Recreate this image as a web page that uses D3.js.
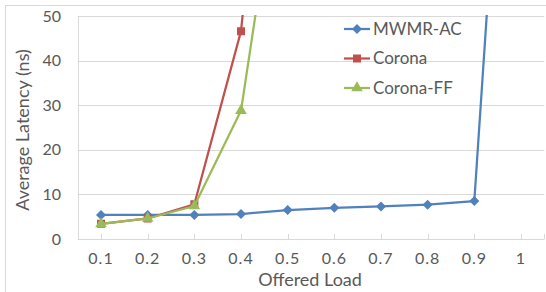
<!DOCTYPE html>
<html>
<head>
<meta charset="utf-8">
<script src="https://cdn.jsdelivr.net/npm/d3@7"></script>
<style>
  body { margin: 0; background: #fff; }
  text { font-family: Lato, "Liberation Sans", sans-serif; fill: #595959; }
</style>
</head>
<body>
<div id="chart"></div>
<script>
// offered load categories
const loads = ["0.1", "0.2", "0.3", "0.4", "0.5", "0.6", "0.7", "0.8", "0.9", "1"];
// average latency (ns), values past the top are estimated from the slope
const mwmrAC = [5.4, 5.4, 5.4, 5.6, 6.5, 7.0, 7.3, 7.7, 8.5, 165];
const corona = [3.4, 4.6, 7.8, 46.6, 150];
const coronaFF = [3.4, 4.6, 7.4, 28.8, 98];
const yTicks = [0, 10, 20, 30, 40, 50];

const series = [
  { name: "MWMR-AC", values: mwmrAC, color: "#4F81BD", marker: d3.symbolDiamond2 || d3.symbolDiamond, size: 64 },
  { name: "Corona", values: corona, color: "#C0504D", marker: d3.symbolSquare, size: 64 },
  { name: "Corona-FF", values: coronaFF, color: "#9BBB59", marker: d3.symbolTriangle, size: 58 }
];

const width = 546;
const height = 292;
const plot = { left: 77.7, right: 544.3, top: 16, bottom: 239 };

const svg = d3.select("#chart").append("svg")
  .attr("width", width)
  .attr("height", height);

// chart area border
svg.append("rect")
  .attr("x", 5.5).attr("y", 5.5)
  .attr("width", width).attr("height", height)
  .style("fill", "none")
  .style("stroke", "#D9D9D9");

const x = d3.scalePoint()
  .domain(loads)
  .range([plot.left, plot.right])
  .padding(0.5);

const y = d3.scaleLinear()
  .domain([0, 50])
  .range([plot.bottom, plot.top]);

// horizontal gridlines
svg.append("g")
  .selectAll("line")
  .data(yTicks)
  .join("line")
  .attr("x1", plot.left)
  .attr("x2", plot.right)
  .attr("y1", d => Math.round(y(d)) + 0.5)
  .attr("y2", d => Math.round(y(d)) + 0.5)
  .style("stroke", "#D9D9D9")
  .style("stroke-width", 1.2);

// y axis line
svg.append("line")
  .attr("x1", Math.round(plot.left) + 0.5)
  .attr("x2", Math.round(plot.left) + 0.5)
  .attr("y1", plot.top)
  .attr("y2", plot.bottom)
  .style("stroke", "#D9D9D9");

// x axis tick marks (at each category and the right end)
const tickXs = loads.map(d => x(d)).concat([plot.right]);
svg.append("g")
  .selectAll("line")
  .data(tickXs)
  .join("line")
  .attr("x1", d => Math.round(d) + 0.5)
  .attr("x2", d => Math.round(d) + 0.5)
  .attr("y1", Math.round(plot.bottom) + 0.5)
  .attr("y2", Math.round(plot.bottom) - 5)
  .style("stroke", "#D9D9D9");

// y tick labels
svg.append("g")
  .selectAll("text")
  .data(yTicks)
  .join("text")
  .attr("x", 61)
  .attr("y", d => y(d))
  .attr("dy", "0.35em")
  .style("text-anchor", "end")
  .style("font-size", "16px")
  .text(d => d);

// x tick labels
svg.append("g")
  .selectAll("text")
  .data(loads)
  .join("text")
  .attr("x", d => x(d))
  .attr("y", 258)
  .attr("dy", "0.35em")
  .style("text-anchor", "middle")
  .style("font-size", "16px")
  .style("letter-spacing", "1px")
  .text(d => d);

// axis titles
svg.append("text")
  .attr("x", 310)
  .attr("y", 280)
  .attr("dy", "0.35em")
  .style("text-anchor", "middle")
  .style("font-size", "18px")
  .text("Offered Load");

svg.append("text")
  .attr("transform", "translate(23,130) rotate(-90)")
  .attr("dy", "0.35em")
  .style("text-anchor", "middle")
  .style("font-size", "18px")
  .text("Average Latency (ns)");

// clip to plot area
svg.append("clipPath")
  .attr("id", "plot-clip")
  .append("rect")
  .attr("x", plot.left)
  .attr("y", plot.top - 1)
  .attr("width", plot.right - plot.left)
  .attr("height", plot.bottom - plot.top + 6);

const lines = svg.append("g").attr("clip-path", "url(#plot-clip)");

const line = d3.line()
  .x((d, i) => x(loads[i]))
  .y(d => y(d));

series.forEach(s => {
  lines.append("path")
    .datum(s.values)
    .attr("d", line)
    .style("fill", "none")
    .style("stroke", s.color)
    .style("stroke-width", 2.25)
    .style("stroke-linejoin", "round");

  lines.selectAll(null)
    .data(s.values.filter(v => v <= 50))
    .join("path")
    .attr("transform", (d, i) => `translate(${x(loads[i])},${y(d)})`)
    .attr("d", d3.symbol().type(s.marker).size(s.size))
    .style("fill", s.color);
});

// legend
const legend = svg.append("g");
series.forEach((s, i) => {
  const ly = 29 + i * 29.5;
  legend.append("line")
    .attr("x1", 344).attr("x2", 370)
    .attr("y1", ly).attr("y2", ly)
    .style("stroke", s.color)
    .style("stroke-width", 2.25);
  legend.append("path")
    .attr("transform", `translate(357,${ly})`)
    .attr("d", d3.symbol().type(s.marker).size(s.size))
    .style("fill", s.color);
  legend.append("text")
    .attr("x", 373)
    .attr("y", ly)
    .attr("dy", "0.35em")
    .style("font-size", "17px")
    .text(s.name);
});
</script>
</body>
</html>
